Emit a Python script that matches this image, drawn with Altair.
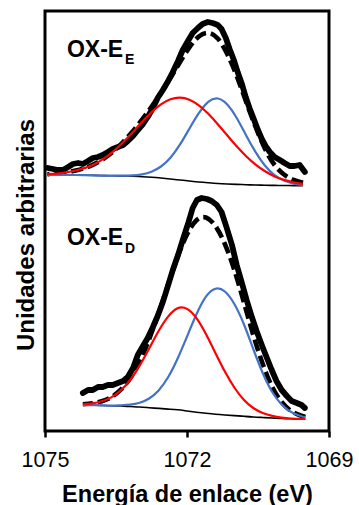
import altair as alt
import pandas as pd

# ---------------- data ----------------
# Upper spectrum: OX-E_E  (intensity in arbitrary units, stacked offset)
E_TOP = [1074.95, 1074.75, 1074.55, 1074.35, 1074.15, 1073.95, 1073.75, 1073.55,
         1073.35, 1073.15, 1072.95, 1072.75, 1072.55, 1072.35, 1072.15, 1071.95,
         1071.75, 1071.55, 1071.35, 1071.15, 1070.95, 1070.75, 1070.55, 1070.35,
         1070.15, 1069.95, 1069.75, 1069.55]
BASE_TOP = [257, 257, 257, 257, 256.8, 256.6, 256.4, 256.2, 256, 255.7, 255.3, 254.8,
            254, 253, 252, 251, 250, 249.2, 248.5, 248, 247.6, 247.3, 247, 246.8,
            246.6, 246.5, 246.4, 246.3]
RED_TOP = [257.8, 258.4, 259.6, 261.5, 264.1, 268.1, 273.7, 280.8, 289.7, 299.6, 309.9,
           319.7, 327.6, 332.7, 334.4, 332.3, 326.7, 318.2, 307.8, 296.7, 285.7, 275.8,
           267.4, 260.7, 255.6, 252.1, 249.7, 248.2]
BLUE_TOP = [257, 257, 257, 257, 256.8, 256.6, 256.4, 256.3, 256.3, 256.6, 257.7, 260.3,
            265.5, 274.3, 287.3, 303.3, 318.8, 330.2, 333.5, 327.5, 314.0, 296.6, 279.9,
            266.2, 256.8, 251.4, 248.4, 247.1]
FIT_TOP = [257.8, 258.4, 259.6, 261.5, 264.1, 268.1, 273.7, 280.9, 290.0, 300.5, 312.3,
           325.2, 339.1, 354.0, 369.7, 384.6, 395.5, 399.2, 393.5, 378.0, 356.0, 330.0,
           305.0, 283.0, 267.0, 257.5, 252.0, 249.2]
EXP_E_TOP = [1074.94, 1074.83, 1074.73, 1074.62, 1074.51, 1074.41, 1074.30, 1074.20,
             1074.09, 1073.99, 1073.88, 1073.78, 1073.67, 1073.57, 1073.46, 1073.35,
             1073.25, 1073.14, 1073.04, 1072.93, 1072.83, 1072.72, 1072.62, 1072.51,
             1072.41, 1072.30, 1072.19, 1072.09, 1071.98, 1071.88, 1071.77, 1071.67,
             1071.56, 1071.46, 1071.35, 1071.27, 1071.18, 1071.10, 1071.01, 1070.93,
             1070.84, 1070.76, 1070.68, 1070.59, 1070.51, 1070.42, 1070.34, 1070.25,
             1070.15, 1070.04, 1069.94, 1069.83, 1069.73, 1069.62, 1069.51]
EXP_TOP = [264, 263, 262, 262, 265, 268, 269, 268, 271, 274, 275, 277, 280, 283, 285,
           287, 291, 296, 302, 308, 315, 324, 334, 342, 350, 360, 371, 382, 391, 399,
           404, 408, 410, 409, 407, 403, 394, 383, 372, 360, 348, 335, 324, 313, 303,
           293, 286, 280, 275, 272, 269, 266, 266, 267, 260]

# Lower spectrum: OX-E_D
E_BOT = [1074.2, 1074.0, 1073.8, 1073.6, 1073.4, 1073.2, 1073.0, 1072.8, 1072.6,
         1072.4, 1072.2, 1072.0, 1071.8, 1071.6, 1071.4, 1071.2, 1071.0, 1070.8,
         1070.6, 1070.4, 1070.2, 1070.0, 1069.8, 1069.6, 1069.5]
BASE_BOT = [27, 26.8, 26.5, 26.2, 26, 25.5, 25, 24.3, 23.6, 22.9, 22.2, 21, 19.8, 18.7,
            17.7, 17, 16.4, 15.7, 15, 14.5, 14, 13.5, 13.2, 13, 13]
RED_BOT = [27.8, 28.7, 30.7, 34.6, 41.6, 52.0, 66.4, 83.5, 101.0, 115.4, 123.8, 123.1,
           113.8, 97.9, 79.0, 60.4, 44.5, 32.3, 24.0, 19.0, 16.1, 14.4, 13.5, 13.1, 13.1]
BLUE_BOT = [27, 26.8, 26.6, 26.4, 26.7, 27.3, 29.2, 33.5, 41.6, 54.7, 73.3, 95.4, 117.7,
            135.3, 143.3, 140.5, 128.0, 108.0, 83.0, 59.0, 40.0, 27.5, 20.0, 16.0, 14.8]
FIT_BOT = [27.8, 28.7, 30.8, 34.8, 42.3, 53.8, 70.6, 92.7, 119.0, 147.2, 174.9, 197.5,
           211.7, 214.5, 206.0, 188.0, 162.0, 130.0, 97.0, 68.0, 45.0, 30.0, 21.0, 16.5,
           15.0]
EXP_E_BOT = [1074.20, 1074.09, 1073.99, 1073.88, 1073.78, 1073.67, 1073.57, 1073.46,
             1073.35, 1073.25, 1073.14, 1073.04, 1072.93, 1072.83, 1072.72, 1072.62,
             1072.51, 1072.41, 1072.30, 1072.19, 1072.09, 1071.98, 1071.88, 1071.79,
             1071.69, 1071.58, 1071.48, 1071.37, 1071.27, 1071.16, 1071.05, 1070.95,
             1070.84, 1070.74, 1070.63, 1070.53, 1070.42, 1070.32, 1070.21, 1070.11,
             1070.00, 1069.89, 1069.79, 1069.68, 1069.58, 1069.51]
EXP_BOT = [39, 42, 42, 45, 45, 47, 47, 49, 51, 55, 64, 77, 86, 94, 105, 116, 130, 145,
           162, 177, 192, 208, 224, 232, 234, 233, 231, 227, 220, 204, 187, 167, 149,
           132, 115, 101, 87, 75, 62, 51, 42, 36, 31, 29, 27, 24]

LABELS = ["OX-E", "OX-E"]
SUBS = ["E", "D"]
LABEL_E = [1074.536, 1074.536]
LABEL_I = [375.3, 187.0]
SUB_E = [1073.312, 1073.312]
SUB_I = [368.0, 179.0]

X_TICKS = [1075, 1072, 1069]

# ---------------- build tables ----------------
rows = []
def add(energies, values, series, panel):
    for e, v in zip(energies, values):
        rows.append({"energy": e, "intensity": v, "series": series, "panel": panel})

add(EXP_E_TOP, EXP_TOP, "exp", "top")
add(E_TOP, FIT_TOP, "fit", "top")
add(E_TOP, BASE_TOP, "base", "top")
add(E_TOP, RED_TOP, "red", "top")
add(E_TOP, BLUE_TOP, "blue", "top")
add(EXP_E_BOT, EXP_BOT, "exp", "bot")
add(E_BOT, FIT_BOT, "fit", "bot")
add(E_BOT, BASE_BOT, "base", "bot")
add(E_BOT, RED_BOT, "red", "bot")
add(E_BOT, BLUE_BOT, "blue", "bot")
df = pd.DataFrame(rows)

lab = pd.DataFrame({"text": LABELS, "energy": LABEL_E, "intensity": LABEL_I})
sub = pd.DataFrame({"text": SUBS, "energy": SUB_E, "intensity": SUB_I})

FONT = "Liberation Sans"

x_enc = alt.X(
    "energy:Q",
    scale=alt.Scale(domain=[1069, 1075], reverse=True, nice=False, zero=False),
    axis=alt.Axis(
        values=X_TICKS, format="d", title="Energía de enlace (eV)",
        domain=False, grid=False, ticks=True, tickSize=6, tickWidth=2.5,
        tickColor="black", labelFontSize=21.5, labelFont=FONT, labelColor="black",
        labelPadding=12, titleFont=FONT, titleFontSize=23.5, titleFontWeight="bold",
        titleColor="black", titleBaseline="alphabetic", titleY=70,
        labelFlush=False, labelOverlap=False,
    ),
)
y_enc = alt.Y(
    "intensity:Q",
    scale=alt.Scale(domain=[1, 421], nice=False, zero=False),
    axis=alt.Axis(
        title="Unidades arbitrarias", domain=False, grid=False, ticks=False,
        labels=False, titleFont=FONT, titleFontSize=24, titleFontWeight="bold",
        titleColor="black", titleAngle=270, titleAlign="center",
        titleBaseline="alphabetic", titleX=-12, titleY=223.5,
    ),
)

base = alt.Chart(df).encode(x=x_enc, y=y_enc, detail="panel:N", order="energy:Q")

def sel(name):
    return base.transform_filter(alt.datum.series == name)

exp_line = sel("exp").mark_line(color="black", strokeWidth=5.8, strokeJoin="round", strokeCap="round")
fit_line = sel("fit").mark_line(color="black", strokeWidth=4.6, strokeDash=[12, 5], interpolate="natural")
base_line = sel("base").mark_line(color="black", strokeWidth=1.6, interpolate="natural")
blue_line = sel("blue").mark_line(color="#4472C4", strokeWidth=2.2, interpolate="natural")
red_line = sel("red").mark_line(color="#FF0000", strokeWidth=2.2, interpolate="natural")

lab_text = alt.Chart(lab).mark_text(
    align="left", baseline="alphabetic", font=FONT, fontSize=23, fontWeight="bold", color="black"
).encode(x="energy:Q", y="intensity:Q", text="text:N")
sub_text = alt.Chart(sub).mark_text(
    align="left", baseline="alphabetic", font=FONT, fontSize=14, fontWeight="bold", color="black"
).encode(x="energy:Q", y="intensity:Q", text="text:N")

chart = alt.layer(exp_line, fit_line, base_line, blue_line, red_line, lab_text, sub_text).properties(
    width=284, height=420,
    padding={"left": 45, "top": 11, "right": 30, "bottom": 74},
    autosize=alt.AutoSizeParams(type="none"),
    background="white",
).configure_view(stroke="black", strokeWidth=3).configure_axis(grid=False)

chart.save("out.html", embed_options={"renderer": "svg", "actions": False})
